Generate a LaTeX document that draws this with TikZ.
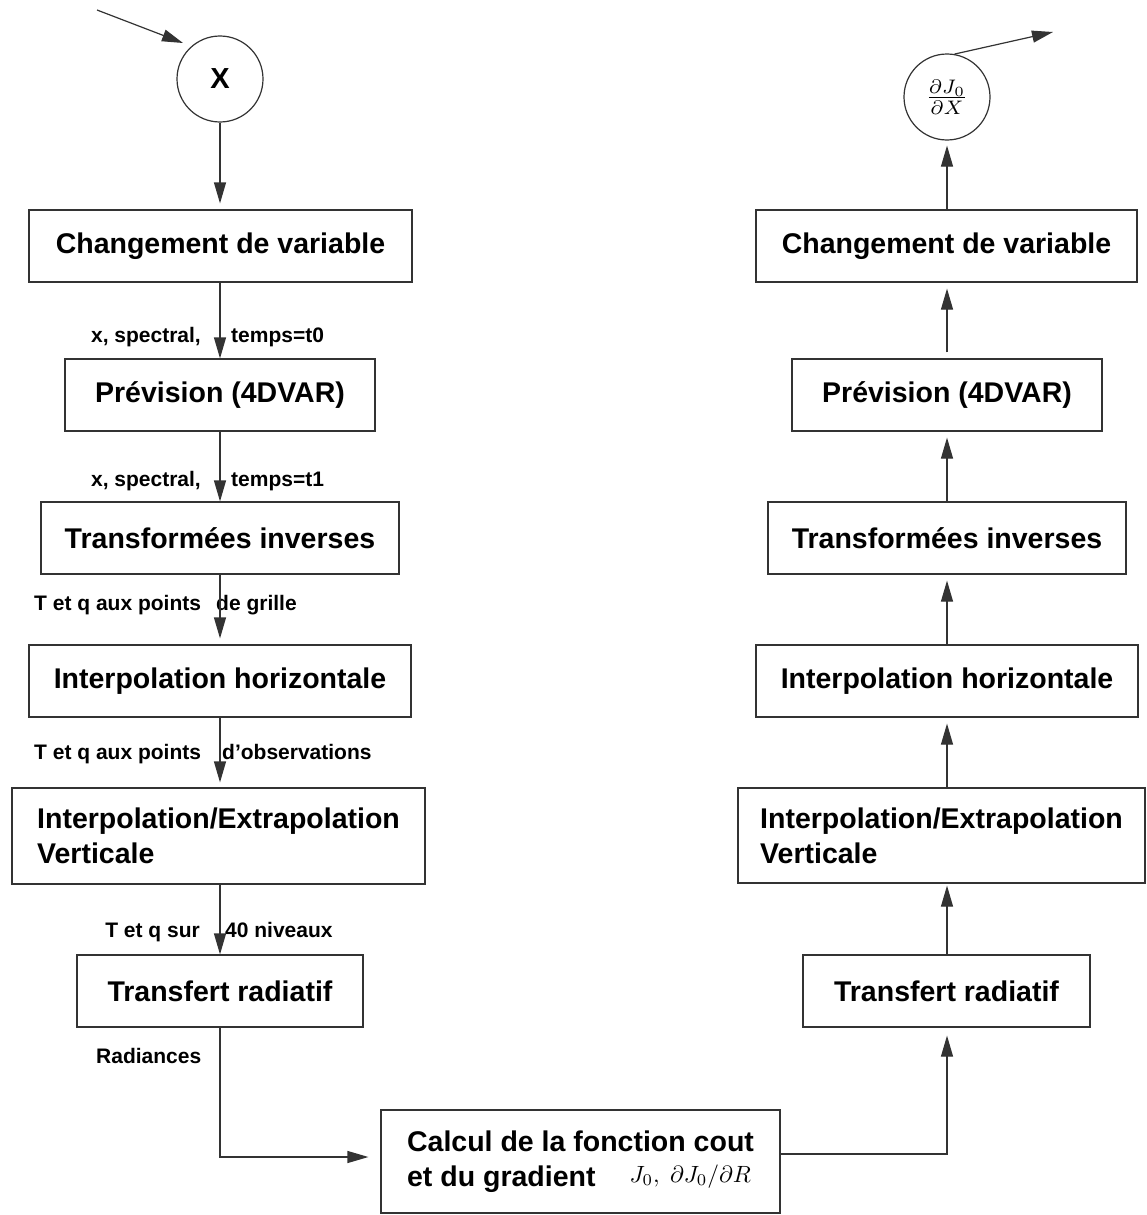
\documentclass[tikz,border=0pt]{standalone}
\usepackage{fontspec}
\usepackage{graphicx}
\setmainfont{Liberation Sans}
\usetikzlibrary{arrows.meta,calc}
\begin{document}
\begin{tikzpicture}[x=1pt,y=-1pt,
  box/.style={draw=black!80, line width=1.2pt, rectangle, inner sep=0pt, minimum height=72pt, font=\fontsize{28.5}{35}\selectfont\bfseries},
  lab/.style={inner sep=0pt, font=\fontsize{21}{25}\selectfont\bfseries},
  circ/.style={draw=black!80, line width=1.2pt, circle, minimum size=86pt, inner sep=0pt},
  arr/.style={draw=black!80, line width=1.2pt, -{Triangle[length=21pt,width=12pt]}}]
\useasboundingbox (0,0) rectangle (1147,1215);
\coordinate (L) at (220,0);
\coordinate (R) at (947,0);
% left column
\node[circ, font=\fontsize{29}{35}\selectfont\bfseries] (X) at (220,79) {X};
\node[box, minimum width=383pt] (b1) at (220.5,246) {Changement de variable};
\node[box, minimum width=310pt] (b2) at (220,395) {Prévision (4DVAR)};
\node[box, minimum width=358pt] (b3) at (220,538) {Transformées inverses};
\node[box, minimum width=382pt] (b4) at (220,681) {Interpolation horizontale};
\node[box, minimum width=413pt, minimum height=96pt, align=left] (b5) at (218.5,836) {Interpolation/Extrapolation\\Verticale};
\node[box, minimum width=286pt] (b6) at (220,991) {Transfert radiatif};
% bottom box
\node[box, minimum width=399pt, minimum height=103pt, align=left] (b7) at (580.5,1161.5) {Calcul de la fonction cout\\et du gradient\hspace{34pt}\raisebox{4pt}{\scalebox{2.35}{\normalsize\mdseries$J_0,\ \partial J_0/\partial R$}}};
% right column
\node[circ] (dJ) at (947,97) {\scalebox{2.8}{\normalsize$\frac{\partial J_0}{\partial X}$}};
\node[box, minimum width=381pt] (r1) at (946.5,246) {Changement de variable};
\node[box, minimum width=310pt] (r2) at (947,395) {Prévision (4DVAR)};
\node[box, minimum width=358pt] (r3) at (947,538) {Transformées inverses};
\node[box, minimum width=382pt] (r4) at (947,681) {Interpolation horizontale};
\node[box, minimum width=407pt, minimum height=95pt, align=left] (r5) at (941.5,835.5) {Interpolation/Extrapolation\\Verticale};
\node[box, minimum width=287pt] (r6) at (946.5,991) {Transfert radiatif};
% labels
\node[lab, anchor=base east] (l1a) at (201,342) {x, spectral,};
\node[lab, anchor=base west] (l1b) at (231,342) {temps=t0};
\node[lab, anchor=base east] (l2a) at (201,486) {x, spectral,};
\node[lab, anchor=base west] (l2b) at (231,486) {temps=t1};
\node[lab, anchor=base west] (l3a) at (34,610) {T et q aux points};
\node[lab, anchor=base west] (l3b) at (216,610) {de grille};
\node[lab, anchor=base west] (l4a) at (34,759) {T et q aux points};
\node[lab, anchor=base west] (l4b) at (222,759) {d’observations};
\node[lab, anchor=base east] (l5a) at (200,937) {T et q sur};
\node[lab, anchor=base west] (l5b) at (225,937) {40 niveaux};
\node[lab, anchor=base west] (l6) at (96,1063) {Radiances};
% input / output arrows
\coordinate (xin0) at (97,10);
\coordinate (xin1) at (183,43);
\coordinate (dout) at (1053,32);
\draw[arr] (xin0) -- (xin1);
\draw[arr] (dJ.80) -- (dout);
% left arrows
\draw[arr, shorten >=6pt] (L |- X.south) -- (L |- b1.north);
\draw[arr] (L |- b1.south) -- (L |- b2.north);
\draw[arr] (L |- b2.south) -- (L |- b3.north);
\draw[arr, shorten >=6pt] (L |- b3.south) -- (L |- b4.north);
\draw[arr, shorten >=5pt] (L |- b4.south) -- (L |- b5.north);
\draw[arr] (L |- b5.south) -- (L |- b6.north);
\draw[arr, shorten >=12pt] (L |- b6.south) |- ([yshift=4.5pt]b7.west);
% right arrows
\draw[arr, shorten >=8pt] ([yshift=7.5pt]b7.east) -| (R |- r6.south);
\draw[arr, shorten >=2pt] (R |- r6.north) -- (R |- r5.south);
\draw[arr, shorten >=6pt] (R |- r5.north) -- (R |- r4.south);
\draw[arr, shorten >=6pt] (R |- r4.north) -- (R |- r3.south);
\draw[arr, shorten >=6pt] (R |- r3.north) -- (R |- r2.south);
\draw[arr, shorten >=6pt, shorten <=6pt] (R |- r2.north) -- (R |- r1.south);
\draw[arr, shorten >=5pt] (R |- r1.north) -- (R |- dJ.south);
\end{tikzpicture}
\end{document}
